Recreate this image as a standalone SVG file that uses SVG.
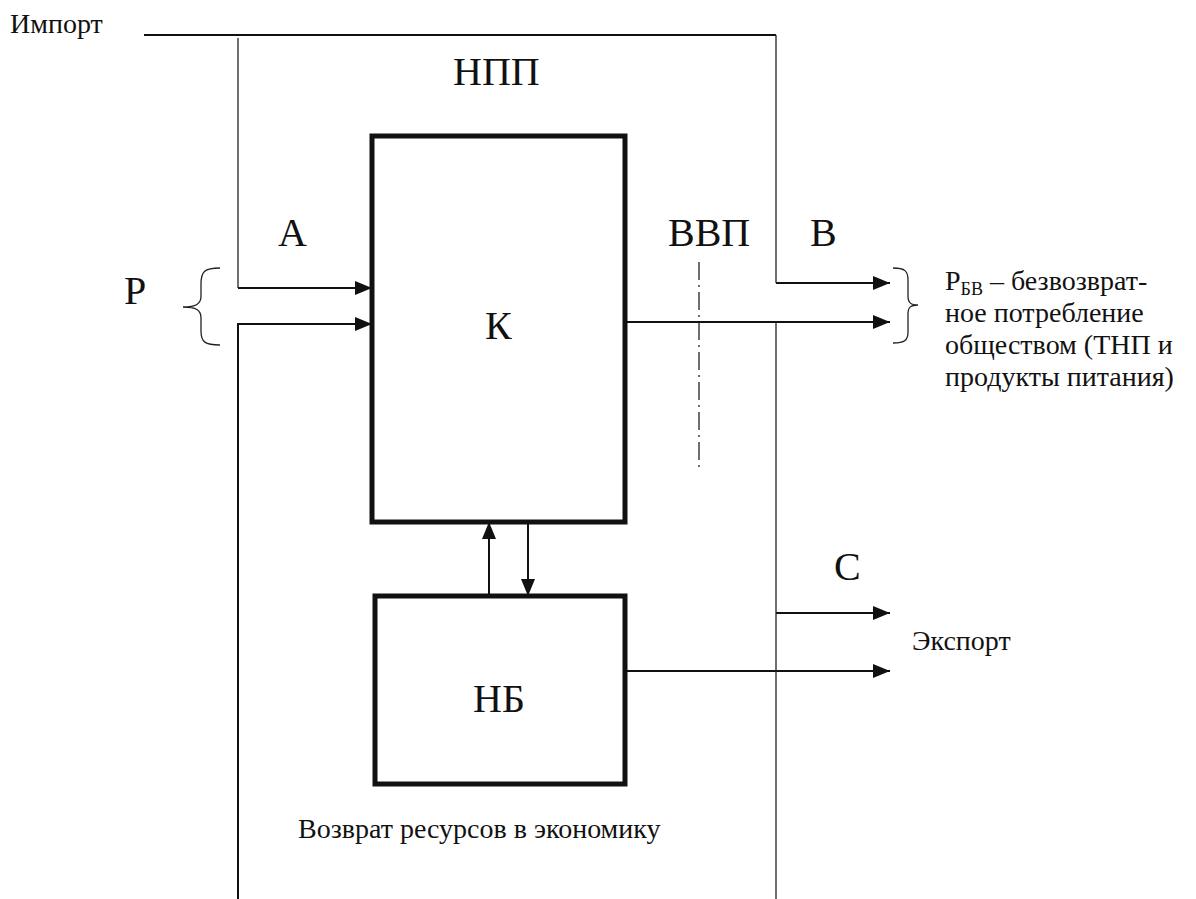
<svg xmlns="http://www.w3.org/2000/svg" width="1196" height="899" viewBox="0 0 1196 899">
<defs>
<marker id="ah" markerUnits="userSpaceOnUse" markerWidth="18" markerHeight="14" refX="17" refY="7" orient="auto">
<path d="M0,0 L17,7 L0,14 Z" fill="#111"/>
</marker>
</defs>
<rect width="1196" height="899" fill="#fff"/>
<g id="connectors" fill="none" stroke="#111">
<g stroke-width="2">
<path d="M144,35 H776"/>
<path d="M238,288 H372" marker-end="url(#ah)"/>
<path d="M238,899 V324 H372" marker-end="url(#ah)"/>
<path d="M776,283 H890" marker-end="url(#ah)"/>
<path d="M625,322 H890" marker-end="url(#ah)"/>
<path d="M776,613 H890" marker-end="url(#ah)"/>
<path d="M625,671 H890" marker-end="url(#ah)"/>
<path d="M489,596 V522" marker-end="url(#ah)"/>
<path d="M528,522 V596" marker-end="url(#ah)"/>
</g>
<g stroke-width="1.3" stroke="#222">
<path d="M776,35 V283"/>
<path d="M776,322 V899"/>
<path d="M238,38 V288"/>
<path d="M699,262 V468" stroke-dasharray="18,5,2,5"/>
<path d="M220,268 C204,268 201,272 201,284 L201,296 C201,304 196,307 183,307 C196,307 201,310 201,318 L201,331 C201,342 205,345 220,345"/>
<path d="M893,268 C905,268 908,271 908,280 L908,296 C908,303 911,305 918,305 C911,305 908,307 908,314 L908,332 C908,340 905,343 893,343"/>
</g>
</g>
<g id="node-K">
<rect x="372" y="136" width="253" height="386" fill="none" stroke="#111" stroke-width="5"/>
<text x="485" y="339" font-size="40" fill="#111" font-family="Liberation Serif">К</text>
</g>
<g id="node-NB">
<rect x="375" y="596" width="250" height="188" fill="none" stroke="#111" stroke-width="5"/>
<text x="473" y="712" font-size="40" fill="#111" font-family="Liberation Serif">НБ</text>
</g>
<g id="labels">
<text x="10" y="33" font-size="28" fill="#111" font-family="Liberation Serif">Импорт</text>
<text x="453" y="85" font-size="40" fill="#111" font-family="Liberation Serif">НПП</text>
<text x="278" y="246" font-size="40" fill="#111" font-family="Liberation Serif">А</text>
<text x="668" y="246" font-size="40" fill="#111" font-family="Liberation Serif">ВВП</text>
<text x="810" y="246" font-size="40" fill="#111" font-family="Liberation Serif">В</text>
<text x="124" y="304" font-size="40" fill="#111" font-family="Liberation Serif">Р</text>
<text x="834" y="580" font-size="40" fill="#111" font-family="Liberation Serif">С</text>
<text x="912" y="650" font-size="28" fill="#111" font-family="Liberation Serif">Экспорт</text>
<text x="298" y="838" font-size="28" fill="#111" font-family="Liberation Serif">Возврат ресурсов в экономику</text>
<text x="945" y="290" font-size="28" fill="#111" font-family="Liberation Serif">Р<tspan font-size="18" dy="5">БВ</tspan><tspan dy="-5"> – безвозврат-</tspan></text>
<text x="945" y="322" font-size="28" fill="#111" font-family="Liberation Serif">ное потребление</text>
<text x="945" y="354" font-size="28" fill="#111" font-family="Liberation Serif">обществом (ТНП и</text>
<text x="945" y="386" font-size="28" fill="#111" font-family="Liberation Serif">продукты питания)</text>
</g>
</svg>
